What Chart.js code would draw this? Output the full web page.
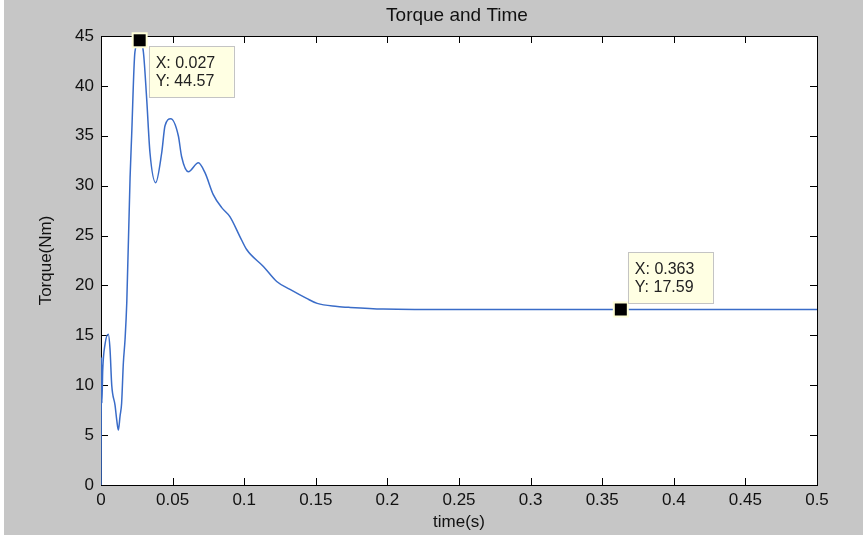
<!DOCTYPE html>
<html>
<head>
<meta charset="utf-8">
<title>Torque and Time</title>
<script src="https://cdn.jsdelivr.net/npm/chart.js@4.4.1/dist/chart.umd.min.js"></script>
<style>
    body { margin: 0; background: #fff; }
    #wrap { width: 863px; height: 537px; }
</style>
</head>
<body>
<div id="wrap"><canvas id="myChart" width="863" height="537"></canvas></div>
<script>
// data
const chartTitle = "Torque and Time";
const xLabel = "time(s)";
const yLabel = "Torque(Nm)";

const timeValues = [0, 0.0003, 0.0006, 0.0012, 0.0028, 0.0051, 0.0063, 0.0075, 0.0098, 0.011,
    0.0121, 0.0133, 0.0144, 0.0156, 0.0168, 0.018, 0.0203, 0.0214, 0.0237, 0.027,
    0.0296, 0.0319, 0.0342, 0.0382, 0.0424, 0.0447, 0.0487, 0.054, 0.0563, 0.061,
    0.068, 0.0726, 0.0784, 0.0843, 0.09, 0.097, 0.1017, 0.1134, 0.1227, 0.132,
    0.1436, 0.151, 0.165, 0.174, 0.197, 0.25, 0.363, 0.5];
const torqueValues = [0, 12.8, 8.2, 11.5, 14.1, 15.1, 13.6, 10.0, 8.0, 6.5,
    5.5, 6.9, 8.2, 12.2, 14.6, 18.3, 30.8, 35.0, 43.4, 44.57,
    43.4, 38.7, 33.3, 30.3, 33.3, 36.0, 36.7, 35.0, 32.9, 31.4,
    32.3, 31.3, 29.1, 27.8, 26.9, 24.9, 23.6, 21.9, 20.4, 19.6,
    18.7, 18.2, 17.9, 17.8, 17.64, 17.59, 17.59, 17.59];

// data tips
const tipX = [0.027, 0.363];
const tipY = [44.57, 17.59];

const xMin = 0, xMax = 0.5, xStep = 0.05;
const yMin = 0, yMax = 45, yStep = 5;

const FONT = "'Liberation Sans', Arial, sans-serif";

// gray figure, white axes, inward ticks, title and data tips
const matlabLook = {
    id: "matlabLook",
    beforeDraw(chart) {
        const c = chart.ctx;
        const a = chart.chartArea;
        c.save();
        c.fillStyle = "#ffffff";
        c.fillRect(0, 0, chart.width, chart.height);
        c.fillStyle = "#c6c6c6";
        c.fillRect(4, 0, chart.width - 4, 535);
        c.fillStyle = "#ffffff";
        c.fillRect(a.left, a.top, a.right - a.left, a.bottom - a.top);
        c.restore();
    },
    beforeDatasetsDraw(chart) {
        const c = chart.ctx;
        const a = chart.chartArea;
        const xs = chart.scales.x;
        const ys = chart.scales.y;
        const len = 7;
        c.save();
        c.strokeStyle = "#000";
        c.lineWidth = 1;
        c.beginPath();
        xs.ticks.forEach((t) => {
            const px = Math.round(xs.getPixelForValue(t.value)) + 0.5;
            c.moveTo(px, a.bottom); c.lineTo(px, a.bottom - len);
            c.moveTo(px, a.top); c.lineTo(px, a.top + len);
        });
        ys.ticks.forEach((t) => {
            const py = Math.round(ys.getPixelForValue(t.value)) + 0.5;
            c.moveTo(a.left, py); c.lineTo(a.left + len, py);
            c.moveTo(a.right, py); c.lineTo(a.right - len, py);
        });
        c.stroke();
        c.strokeRect(Math.round(a.left) + 0.5, Math.round(a.top) + 0.5,
            Math.round(a.right - a.left), Math.round(a.bottom - a.top));

        c.fillStyle = "#111";
        c.font = "19px " + FONT;
        c.textAlign = "center";
        c.textBaseline = "middle";
        c.fillText(chartTitle, (a.left + a.right) / 2 - 2, 16);
        c.restore();
    },
    afterDatasetsDraw(chart) {
        const c = chart.ctx;
        const xs = chart.scales.x;
        const ys = chart.scales.y;
        c.save();
        tipX.forEach((tx, i) => {
            const px = xs.getPixelForValue(tx);
            const py = ys.getPixelForValue(tipY[i]);
            // marker
            c.fillStyle = "#ffffd8";
            c.fillRect(px - 8, py - 8, 16, 16);
            c.fillStyle = "#000";
            c.fillRect(px - 6, py - 6, 12, 12);
            // box
            const bx = i === 0 ? px + 9 : px + 7;
            const by = i === 0 ? py + 6 : py - 57;
            c.fillStyle = "#ffffe3";
            c.fillRect(bx, by, 85, 51);
            c.strokeStyle = "#c4c4c4";
            c.lineWidth = 1;
            c.strokeRect(Math.round(bx) + 0.5, Math.round(by) + 0.5, 85, 51);
            c.fillStyle = "#222";
            c.font = "16px " + FONT;
            c.textAlign = "left";
            c.textBaseline = "alphabetic";
            c.fillText("X: " + tx, bx + 7, by + 22);
            c.fillText("Y: " + tipY[i], bx + 7, by + 40);
        });
        c.restore();
    },
};

const points = timeValues.map((t, i) => ({ x: t, y: torqueValues[i] }));

const config = {
    type: "line",
    data: {
        datasets: [
            {
                label: "Torque",
                data: points,
                borderColor: "#3a6cc8",
                borderWidth: 1.5,
                pointRadius: 0,
                cubicInterpolationMode: "monotone",
                fill: false,
            },
        ],
    },
    options: {
        responsive: false,
        animation: false,
        devicePixelRatio: 1,
        layout: { padding: { top: 36, right: 46, left: 0, bottom: 0 } },
        plugins: {
            legend: { display: false },
            tooltip: { enabled: false },
        },
        scales: {
            x: {
                type: "linear",
                min: xMin,
                max: xMax,
                afterFit: (scale) => { scale.height = 52; },
                grid: { display: false, drawTicks: false },
                border: { display: false },
                ticks: {
                    stepSize: xStep,
                    padding: 5,
                    maxRotation: 0,
                    color: "#111",
                    font: { family: FONT, size: 17 },
                    callback: (v) => String(Number(v.toFixed(2))),
                },
                title: {
                    display: true,
                    text: xLabel,
                    color: "#111",
                    font: { family: FONT, size: 17 },
                    padding: { top: 0, bottom: 4 },
                },
            },
            y: {
                min: yMin,
                max: yMax,
                afterFit: (scale) => { scale.width = 101; },
                grid: { display: false, drawTicks: false },
                border: { display: false },
                ticks: {
                    stepSize: yStep,
                    padding: 7,
                    color: "#111",
                    font: { family: FONT, size: 17 },
                },
                title: {
                    display: true,
                    text: yLabel,
                    color: "#111",
                    font: { family: FONT, size: 17 },
                    padding: { top: 36, bottom: 0 },
                },
            },
        },
    },
    plugins: [matlabLook],
};

new Chart(document.getElementById("myChart").getContext("2d"), config);
</script>
</body>
</html>
